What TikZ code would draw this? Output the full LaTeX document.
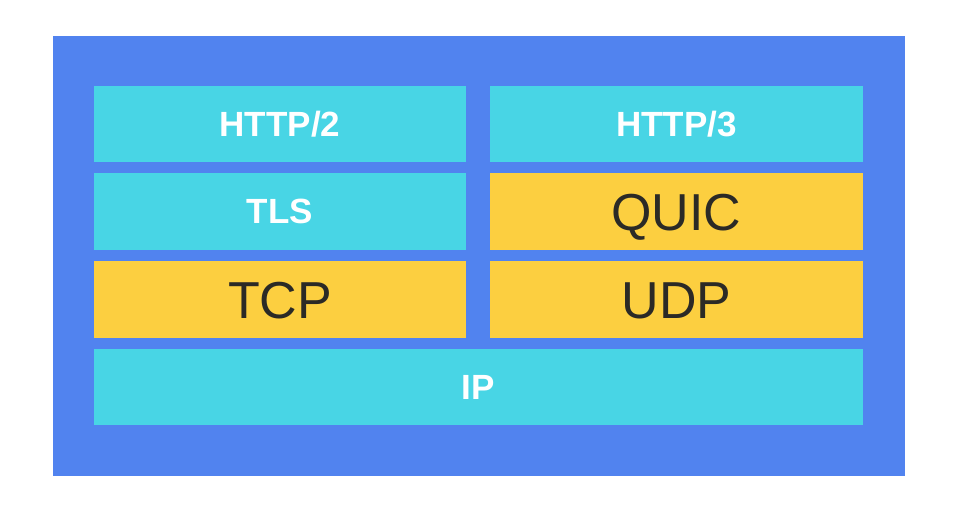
\documentclass[tikz,border=0pt]{standalone}
\usepackage{fontspec}
\setmainfont{Liberation Sans}
\definecolor{bgblue}{HTML}{5183EF}
\definecolor{cyanbox}{HTML}{48D5E5}
\definecolor{yellowbox}{HTML}{FCCF40}
\definecolor{darktext}{HTML}{2B2A26}
\begin{document}
\begin{tikzpicture}[x=1pt,y=1pt,
  layer/.style={draw=none,inner sep=0pt,minimum height=76.5pt,anchor=center,text depth=0pt},
  cyanlayer/.style={layer,fill=cyanbox,text=white,text height=25pt,font=\fontsize{35}{35}\selectfont\bfseries},
  yellowlayer/.style={layer,fill=yellowbox,text=darktext,text height=37.2pt,font=\fontsize{52}{52}\selectfont},
  half/.style={minimum width=372.5pt},
  full/.style={minimum width=769pt}]
\useasboundingbox (0,0) rectangle (962,516);
\fill[white] (0,0) rectangle (962,516);
\fill[bgblue] (53,40) rectangle (905,480);
\node[cyanlayer,half] (http2) at (280,392) {HTTP/2};
\node[cyanlayer,half] (http3) at (676.5,392) {HTTP/3};
\node[cyanlayer,half] (tls) at (280,304.5) {TLS};
\node[yellowlayer,half] (quic) at (676.5,304.5) {QUIC};
\node[yellowlayer,half] (tcp) at (280,216.5) {TCP};
\node[yellowlayer,half] (udp) at (676.5,216.5) {UDP};
\node[cyanlayer,full] (ip) at (478.5,129) {IP};
\end{tikzpicture}
\end{document}
